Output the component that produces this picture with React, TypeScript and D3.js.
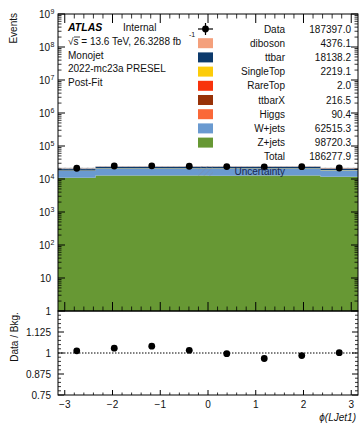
import React from "react";
import * as d3 from "d3";

// Binning in phi of the leading jet (8 bins over [-pi, pi])
const binEdges = [-3.14159, -2.35619, -1.5708, -0.7854, 0, 0.7854, 1.5708, 2.35619, 3.14159];

// Post-fit background yields per bin
const zjets = [10890.4, 12702.5, 12688.1, 12660.2, 12631.9, 12680.4, 12666.8, 11800.0];
const wjets = [7002.3, 8190.6, 8172.4, 8150.8, 8121.7, 8165.2, 8152.6, 6559.7];
const higgs = [10.8, 11.5, 11.4, 11.3, 11.2, 11.4, 11.5, 11.3];
const ttbarX = [26.1, 27.4, 27.2, 26.9, 26.8, 27.3, 27.5, 27.3];
const rareTop = [0.24, 0.26, 0.25, 0.25, 0.24, 0.26, 0.25, 0.25];
const singleTop = [268.4, 281.2, 279.5, 277.3, 275.8, 278.6, 280.1, 278.2];
const ttbar = [2180.4, 2301.7, 2288.9, 2279.3, 2262.5, 2270.1, 2285.6, 2269.7];
const diboson = [521.3, 552.8, 549.6, 548.2, 545.9, 551.7, 553.4, 553.2];

// Observed events per bin
const dataCounts = [21170, 24760, 25000, 24330, 23781, 23200, 23613, 21543];

// Relative total uncertainty on the background per bin
const relUnc = [0.07, 0.02, 0.02, 0.02, 0.02, 0.02, 0.02, 0.03];

// Legend entries (top to bottom) with yields
const legendNames = ["diboson", "ttbar", "SingleTop", "RareTop", "ttbarX", "Higgs", "W+jets", "Z+jets"];
const legendColors = ["#f4a07c", "#0c3a6c", "#fccc0a", "#f8330c", "#983208", "#fa6838", "#6a9ad0", "#679834"];
const legendYields = ["4376.1", "18138.2", "2219.1", "2.0", "216.5", "90.4", "62515.3", "98720.3"];
const dataYield = "187397.0";
const totalYield = "186277.9";

const headerLines = ["Monojet", "2022-mc23a PRESEL", "Post-Fit"];
const ratioTicks = [0.75, 0.875, 1, 1.125];
const xTicks = [-3, -2, -1, 0, 1, 2, 3];

const W = 364;
const H = 425;
const X0 = 58;
const X1 = 358;
const MAIN_TOP = 14;
const MAIN_BOT = 311;
const RATIO_BOT = 395;
const FONT = "'Liberation Sans', Arial, Helvetica, sans-serif";

const seriesByName: Record<string, number[]> = {
  diboson,
  ttbar,
  SingleTop: singleTop,
  RareTop: rareTop,
  ttbarX,
  Higgs: higgs,
  "W+jets": wjets,
  "Z+jets": zjets,
};

export default function App() {
  const x = d3.scaleLinear().domain([-Math.PI, Math.PI]).range([X0, X1]);
  const y = d3.scaleLog().domain([1, 1e9]).range([MAIN_BOT, MAIN_TOP]);
  const r = d3.scaleLinear().domain([0.75, 1.25]).range([RATIO_BOT, MAIN_BOT]);

  // Stack from bottom (Z+jets) to top (diboson)
  const keys = [...legendNames].reverse();
  const rows = zjets.map((_, i) => {
    const o: Record<string, number> = {};
    keys.forEach((k) => (o[k] = seriesByName[k][i]));
    return o;
  });
  const stacked = d3.stack<Record<string, number>>().keys(keys)(rows);
  const colorOf = (k: string) => legendColors[legendNames.indexOf(k)];
  const totals = rows.map((row) => keys.reduce((s, k) => s + row[k], 0));
  const centers = binEdges.slice(0, -1).map((e, i) => (e + binEdges[i + 1]) / 2);
  const ratios = dataCounts.map((d, i) => d / totals[i]);

  const ySafe = (v: number) => y(Math.max(v, 1));

  // Histogram-style step area: each bin contributes its two edges
  type StepPt = { xv: number; lo: number; hi: number };
  const stepArea = d3
    .area<StepPt>()
    .x((p) => x(p.xv))
    .y0((p) => ySafe(p.lo))
    .y1((p) => ySafe(p.hi));
  const stepPoints = (lo: number[], hi: number[]): StepPt[] =>
    lo.flatMap((_, i) => [
      { xv: binEdges[i], lo: lo[i], hi: hi[i] },
      { xv: binEdges[i + 1], lo: lo[i], hi: hi[i] },
    ]);

  // log minor ticks
  const logMajors = d3.range(0, 10).map((p) => Math.pow(10, p));
  const logMinors: number[] = [];
  for (let p = 0; p < 9; p++) for (let m = 2; m <= 9; m++) logMinors.push(m * Math.pow(10, p));

  const xMinor = d3.range(-15, 16).map((k) => k * 0.2).filter((v) => Math.abs(Math.round(v) - v) > 1e-6);
  const rMinor = d3.range(0, 21).map((k) => 0.75 + k * 0.025).filter((v) => !ratioTicks.includes(+v.toFixed(3)) && v < 1.25 && v > 0.75);

  const legendRowY = (i: number) => 29 + i * 14.2;

  const axisStroke = "#000";

  return (
    <div style={{ position: "absolute", left: 0, top: 0 }}>
      <svg width={W} height={H} style={{ display: "block", background: "#fff" }} fontFamily={FONT}>
        <defs>
          <pattern id="hatch" width="4" height="4" patternUnits="userSpaceOnUse" patternTransform="rotate(45)">
            <line x1="0" y1="0" x2="0" y2="4" stroke="#7d8aa0" strokeWidth="1.2" />
          </pattern>
          <clipPath id="mainClip">
            <rect x={X0} y={MAIN_TOP} width={X1 - X0} height={MAIN_BOT - MAIN_TOP} />
          </clipPath>
        </defs>

        {/* stacked backgrounds */}
        <g clipPath="url(#mainClip)">
          {stacked.map((layer) => (
            <path
              key={layer.key}
              d={stepArea(stepPoints(layer.map((s) => s[0]), layer.map((s) => s[1]))) || ""}
              fill={colorOf(layer.key)}
            />
          ))}
          {/* background uncertainty band */}
          <path
            d={stepArea(stepPoints(totals.map((t, i) => t * (1 - relUnc[i])), totals.map((t, i) => t * (1 + relUnc[i])))) || ""}
            fill="#9a9a9a"
            opacity={0.35}
          />
          <path
            d={stepArea(stepPoints(totals.map((t, i) => t * (1 - relUnc[i])), totals.map((t, i) => t * (1 + relUnc[i])))) || ""}
            fill="url(#hatch)"
            opacity={0.6}
          />
        </g>

        {/* data points */}
        {dataCounts.map((d, i) => {
          const cx = x(centers[i]);
          const e = Math.sqrt(d);
          return (
            <g key={i}>
              <line x1={cx} x2={cx} y1={y(d + e)} y2={y(d - e)} stroke="#000" strokeWidth={1} />
              <circle cx={cx} cy={y(d)} r={3.4} fill="#000" />
            </g>
          );
        })}

        {/* main frame */}
        <rect x={X0} y={MAIN_TOP} width={X1 - X0} height={MAIN_BOT - MAIN_TOP} fill="none" stroke={axisStroke} strokeWidth={1} />
        {/* main y ticks */}
        {logMajors.map((v) => (
          <g key={"ym" + v}>
            <line x1={X0} x2={X0 + 7} y1={y(v)} y2={y(v)} stroke={axisStroke} />
            <line x1={X1} x2={X1 - 7} y1={y(v)} y2={y(v)} stroke={axisStroke} />
          </g>
        ))}
        {logMinors.map((v) => (
          <g key={"yn" + v}>
            <line x1={X0} x2={X0 + 3.5} y1={y(v)} y2={y(v)} stroke={axisStroke} strokeWidth={0.8} />
            <line x1={X1} x2={X1 - 3.5} y1={y(v)} y2={y(v)} stroke={axisStroke} strokeWidth={0.8} />
          </g>
        ))}
        {/* main x ticks (top and bottom) */}
        {xTicks.map((v) => (
          <g key={"xm" + v}>
            <line x1={x(v)} x2={x(v)} y1={MAIN_TOP} y2={MAIN_TOP + 9} stroke={axisStroke} />
            <line x1={x(v)} x2={x(v)} y1={MAIN_BOT} y2={MAIN_BOT - 9} stroke={axisStroke} />
          </g>
        ))}
        {xMinor.map((v) => (
          <g key={"xn" + v}>
            <line x1={x(v)} x2={x(v)} y1={MAIN_TOP} y2={MAIN_TOP + 4.5} stroke={axisStroke} strokeWidth={0.8} />
            <line x1={x(v)} x2={x(v)} y1={MAIN_BOT} y2={MAIN_BOT - 4.5} stroke={axisStroke} strokeWidth={0.8} />
          </g>
        ))}
        {/* main y labels */}
        {logMajors.map((v, p) => (
          <text key={"yl" + p} x={p >= 2 ? 50 : 51} y={y(v) + 4} fontSize={10} textAnchor="end" fill="#111">
            {p === 0 ? "1" : "10"}
          </text>
        ))}
        {logMajors.map((v, p) =>
          p >= 2 ? (
            <text key={"ye" + p} x={50.5} y={y(v) - 0.5} fontSize={7} fill="#111">
              {p}
            </text>
          ) : null
        )}
        <text transform={`translate(17,13) rotate(-90)`} fontSize={10} textAnchor="end" fill="#111">
          Events
        </text>

        {/* ratio panel */}
        <line x1={X0} x2={X1} y1={r(1)} y2={r(1)} stroke="#000" strokeWidth={1} strokeDasharray="1.5,1.5" />
        {ratios.map((v, i) => {
          const cx = x(centers[i]);
          const e = Math.sqrt(dataCounts[i]) / totals[i];
          return (
            <g key={"r" + i}>
              <line x1={cx} x2={cx} y1={r(v + e)} y2={r(v - e)} stroke="#000" />
              <circle cx={cx} cy={r(v)} r={3.4} fill="#000" />
            </g>
          );
        })}
        <rect x={X0} y={MAIN_BOT} width={X1 - X0} height={RATIO_BOT - MAIN_BOT} fill="none" stroke={axisStroke} strokeWidth={1} />
        {ratioTicks.map((v) => (
          <g key={"rt" + v}>
            <line x1={X0} x2={X0 + 6} y1={r(v)} y2={r(v)} stroke={axisStroke} />
            <line x1={X1} x2={X1 - 6} y1={r(v)} y2={r(v)} stroke={axisStroke} />
            <text x={51} y={r(v) + 4} fontSize={10} textAnchor="end" fill="#111">
              {v === 1 ? "1" : String(v)}
            </text>
          </g>
        ))}
        {rMinor.map((v) => (
          <g key={"rn" + v}>
            <line x1={X0} x2={X0 + 3} y1={r(v)} y2={r(v)} stroke={axisStroke} strokeWidth={0.8} />
            <line x1={X1} x2={X1 - 3} y1={r(v)} y2={r(v)} stroke={axisStroke} strokeWidth={0.8} />
          </g>
        ))}
        {xTicks.map((v) => (
          <g key={"rx" + v}>
            <line x1={x(v)} x2={x(v)} y1={RATIO_BOT} y2={RATIO_BOT - 5} stroke={axisStroke} />
            <text x={x(v)} y={408} fontSize={10} textAnchor="middle" fill="#111">
              {v < 0 ? "\u2212" + Math.abs(v) : String(v)}
            </text>
          </g>
        ))}
        {xMinor.map((v) => (
          <line key={"rxn" + v} x1={x(v)} x2={x(v)} y1={RATIO_BOT} y2={RATIO_BOT - 2.5} stroke={axisStroke} strokeWidth={0.8} />
        ))}
        <text transform={`translate(18,337) rotate(-90)`} fontSize={10} textAnchor="middle" fill="#111">
          Data / Bkg.
        </text>
        <text x={356} y={421} fontSize={10} textAnchor="end" fill="#111" fontStyle="italic">
          ϕ(LJet1)
        </text>

        {/* header text */}
        <text x={68} y={30.5} fontSize={10.5} fontWeight="bold" fontStyle="italic" fill="#000">
          ATLAS
        </text>
        <text x={123} y={30.5} fontSize={10} fill="#111">
          Internal
        </text>
        <text x={68} y={45} fontSize={10} fill="#111">
          √s = 13.6 TeV, 26.3288 fb
        </text>
        <line x1={74} x2={80} y1={37} y2={37} stroke="#111" strokeWidth={0.8} />
        <text x={189} y={37} fontSize={7} fill="#111">
          -1
        </text>
        {headerLines.map((t, i) => (
          <text key={t} x={68} y={58.5 + i * 13.5} fontSize={10} fill="#111">
            {t}
          </text>
        ))}

        {/* legend */}
        <g>
          <line x1={198} x2={213} y1={legendRowY(0)} y2={legendRowY(0)} stroke="#000" strokeWidth={1.2} />
          <line x1={205.5} x2={205.5} y1={legendRowY(0) - 6} y2={legendRowY(0) + 6} stroke="#000" strokeWidth={1.2} />
          <circle cx={205.5} cy={legendRowY(0)} r={3.4} fill="#000" />
          <text x={285} y={legendRowY(0) + 3.6} fontSize={10} textAnchor="end" fill="#111">
            Data
          </text>
          <text x={351} y={legendRowY(0) + 3.6} fontSize={10} textAnchor="end" fill="#111">
            {dataYield}
          </text>
          {legendNames.map((n, i) => (
            <g key={n}>
              <rect x={198} y={legendRowY(i + 1) - 5} width={15} height={10} fill={legendColors[i]} />
              <text x={285} y={legendRowY(i + 1) + 3.6} fontSize={10} textAnchor="end" fill="#111">
                {n}
              </text>
              <text x={351} y={legendRowY(i + 1) + 3.6} fontSize={10} textAnchor="end" fill="#111">
                {legendYields[i]}
              </text>
            </g>
          ))}
          <text x={285} y={legendRowY(9) + 3.6} fontSize={10} textAnchor="end" fill="#111">
            Total
          </text>
          <text x={351} y={legendRowY(9) + 3.6} fontSize={10} textAnchor="end" fill="#111">
            {totalYield}
          </text>
          <rect x={198} y={legendRowY(10) - 5} width={15} height={10} fill="url(#hatch)" opacity={0.6} />
          <text x={285} y={legendRowY(10) + 3.6} fontSize={10} textAnchor="end" fill="#1a2850">
            Uncertainty
          </text>
        </g>
      </svg>
    </div>
  );
}
